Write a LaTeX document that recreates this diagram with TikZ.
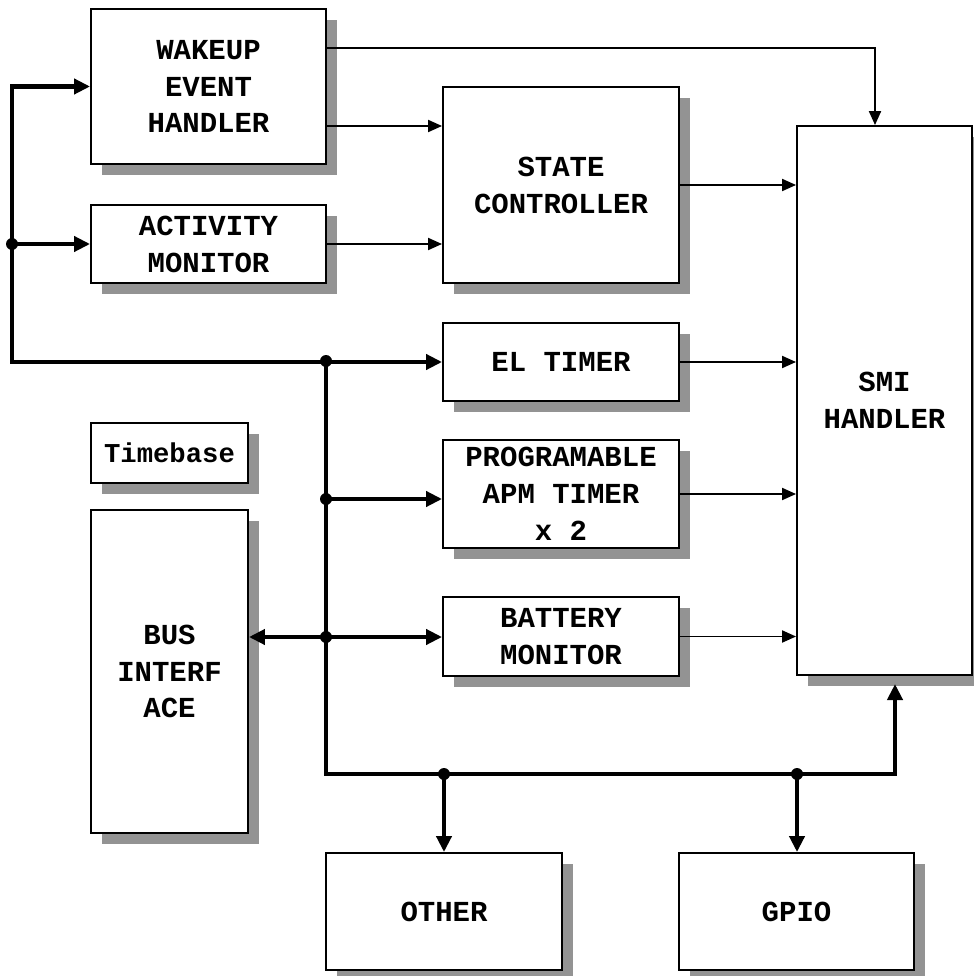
\documentclass[tikz,border=0pt]{standalone}
\usepackage{fontspec}
\setmonofont{Liberation Mono}
\usetikzlibrary{arrows.meta}
\usetikzlibrary{shadows}
\definecolor{shade}{RGB}{147,147,147}

\tikzset{
    sigtip/.tip={Triangle[length=0.28cm, width=0.24cm]},
    bustip/.tip={Triangle[length=0.32cm, width=0.3cm]}
}

\begin{document}
\begin{tikzpicture}[x=0.02cm, y=-0.02cm,
    box/.style={draw, line width=1.1pt, fill=white, align=center, inner sep=0pt,
        font=\ttfamily\bfseries\fontsize{16.5}{21}\selectfont,
        drop shadow={shadow xshift=0.22cm, shadow yshift=-0.22cm, fill=shade, opacity=1}},
    sig/.style={line width=1.1pt, -sigtip},
    bus/.style={line width=2.8pt, -bustip}]

    \useasboundingbox (0,0) rectangle (973,976);

    % Blocks
    \node[box, minimum width=4.7cm, minimum height=3.1cm] (wakeup) at (208.5,86.5) {WAKEUP\\EVENT\\HANDLER};
    \node[box, minimum width=4.7cm, minimum height=1.56cm] (activity) at (208.5,244) {ACTIVITY\\MONITOR};
    \node[box, minimum width=4.72cm, minimum height=3.92cm] (state) at (561,185) {STATE\\CONTROLLER};
    \node[box, minimum width=4.72cm, minimum height=1.56cm] (eltimer) at (561,362) {EL TIMER};
    \node[box, minimum width=4.72cm, minimum height=2.16cm] (apm) at (561,494) {PROGRAMABLE\\APM TIMER\\x 2};
    \node[box, minimum width=4.72cm, minimum height=1.58cm] (battery) at (561,636.5) {BATTERY\\MONITOR};
    \node[box, minimum width=3.5cm, minimum height=10.98cm] (smi) at (884.5,400.5) {SMI\\HANDLER};
    \node[box, minimum width=3.14cm, minimum height=1.2cm,
        font=\ttfamily\bfseries\fontsize{15.5}{21}\selectfont] (timebase) at (169.5,453) {Timebase};
    \node[box, minimum width=3.14cm, minimum height=6.46cm] (busif) at (169.5,671.5) {BUS\\INTERF\\ACE};
    \node[box, minimum width=4.72cm, minimum height=2.34cm] (other) at (444,911.5) {OTHER};
    \node[box, minimum width=4.7cm, minimum height=2.34cm] (gpio) at (796.5,911.5) {GPIO};

    % Bus junctions
    \coordinate (lb) at (12,361);
    \coordinate (ja) at (12,244);
    \coordinate (jb) at (326,361);
    \coordinate (jc) at (326,499);
    \coordinate (jd) at (326,637);
    \coordinate (je) at (444,774);
    \coordinate (jf) at (797,774);
    \coordinate (br) at (895,774);
    \coordinate (si) at (895,684);

    % Thick bus lines
    \draw[bus, bustip-bustip] (wakeup.west) -| (lb) |- (eltimer.west);
    \draw[bus] (ja) -- (activity.west);
    \draw[bus] (jb) |- (br) -- (si);
    \draw[bus] (jc) -- (apm.west |- jc);
    \draw[bus, bustip-bustip] (busif.east |- jd) -- (battery.west |- jd);
    \draw[bus] (je) -- (other.north);
    \draw[bus] (jf) -- (gpio.north -| jf);

    \foreach \j in {ja,jb,jc,jd,je,jf}
        \fill (\j) circle (0.12cm);

    % Signals to the state controller and SMI handler
    \draw[sig] (wakeup.east |- 0,48) -| (smi.north -| 875,0);
    \draw[sig] (wakeup.east |- 0,126) -- (state.west |- 0,126);
    \draw[sig] (activity.east) -- (state.west |- activity.east);
    \draw[sig] (state.east) -- (smi.west |- state.east);
    \draw[sig] (eltimer.east) -- (smi.west |- eltimer.east);
    \draw[sig] (apm.east) -- (smi.west |- apm.east);
    \draw[sig] (battery.east) -- (smi.west |- battery.east);

\end{tikzpicture}
\end{document}
